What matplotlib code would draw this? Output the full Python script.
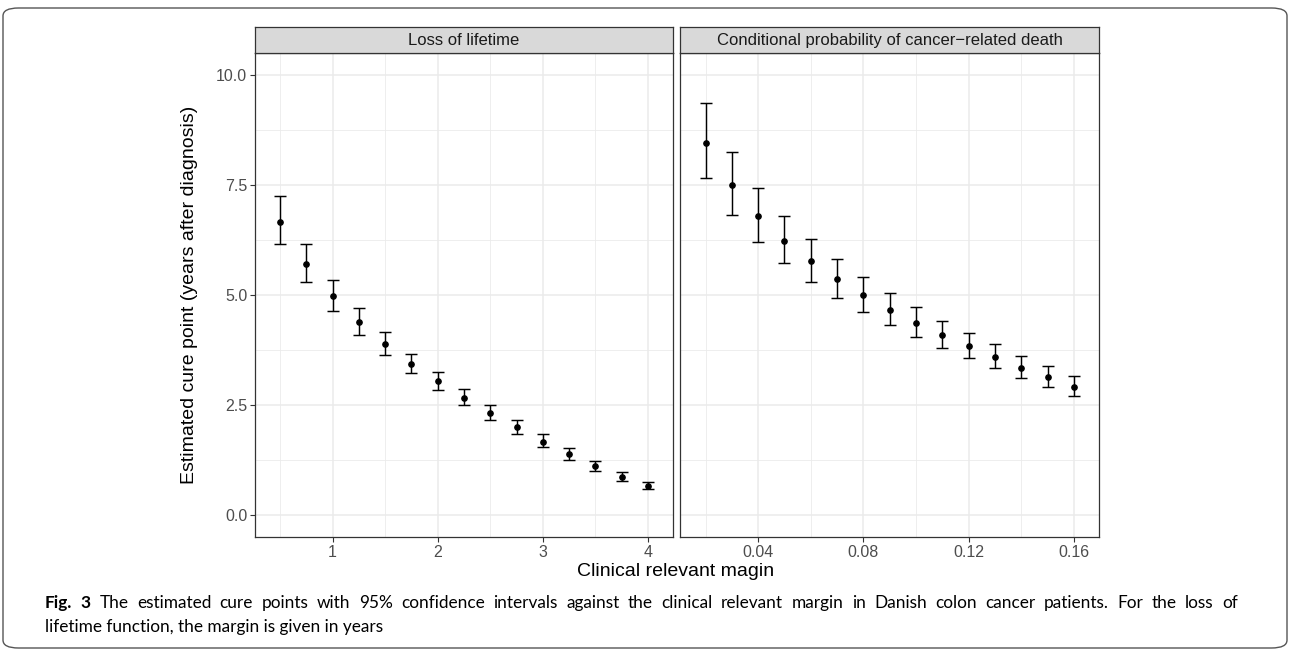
import matplotlib
matplotlib.use("Agg")
import matplotlib.pyplot as plt
from matplotlib.patches import FancyBboxPatch
import numpy as np

# values
lol_margin = [0.5, 0.75, 1, 1.25, 1.5, 1.75, 2, 2.25, 2.5, 2.75, 3, 3.25, 3.5, 3.75, 4]
lol_est = [6.67, 5.70, 4.98, 4.39, 3.89, 3.44, 3.04, 2.67, 2.32, 1.99, 1.67, 1.38, 1.11, 0.86, 0.67]
lol_lo = [6.16, 5.29, 4.64, 4.10, 3.64, 3.22, 2.84, 2.49, 2.16, 1.84, 1.54, 1.26, 1.00, 0.77, 0.59]
lol_hi = [7.26, 6.16, 5.35, 4.70, 4.16, 3.67, 3.25, 2.86, 2.50, 2.15, 1.83, 1.52, 1.23, 0.98, 0.76]

cp_margin = [0.02, 0.03, 0.04, 0.05, 0.06, 0.07, 0.08, 0.09, 0.10, 0.11, 0.12, 0.13, 0.14, 0.15, 0.16]
cp_est = [8.46, 7.50, 6.79, 6.23, 5.77, 5.36, 5.00, 4.67, 4.37, 4.10, 3.83, 3.59, 3.35, 3.14, 2.92]
cp_lo = [7.66, 6.82, 6.21, 5.72, 5.30, 4.94, 4.62, 4.32, 4.05, 3.80, 3.56, 3.33, 3.11, 2.91, 2.71]
cp_hi = [9.36, 8.25, 7.44, 6.80, 6.27, 5.81, 5.41, 5.05, 4.72, 4.42, 4.13, 3.88, 3.62, 3.38, 3.15]

panel_titles = ["Loss of lifetime", "Conditional probability of cancer\u2212related death"]
y_ticks = [0, 2.5, 5, 7.5, 10]
lol_ticks = [1, 2, 3, 4]
cp_ticks = [0.04, 0.08, 0.12, 0.16]

caption_bold = "Fig. 3"
caption_line1 = ("The estimated cure points with 95% confidence intervals against the clinical "
                 "relevant margin in Danish colon cancer patients. For the loss of")
caption_line2 = "lifetime function, the margin is given in years"

plt.rcParams['font.family'] = ['Liberation Sans', 'DejaVu Sans']

W, H = 1290, 657
fig = plt.figure(figsize=(W / 100, H / 100), dpi=100)

# outer rounded frame
frame = FancyBboxPatch((3 / W, 9 / H), 1284 / W, 640 / H,
                       boxstyle="round,pad=0,rounding_size=0.012",
                       transform=fig.transFigure, fill=False,
                       edgecolor="#555555", linewidth=1.0)
fig.patches.append(frame)


def px_axes(x0, x1, y_top, y_bot):
    return fig.add_axes([x0 / W, 1 - y_bot / H, (x1 - x0) / W, (y_bot - y_top) / H])


def style_panel(ax, title, xmajor, xminor, xfmt):
    ax.set_ylim(-0.5, 10.5)
    ax.set_yticks(y_ticks)
    ax.set_yticks([1.25, 3.75, 6.25, 8.75], minor=True)
    ax.set_xticks(xmajor)
    ax.set_xticks(xminor, minor=True)
    ax.set_xticklabels([xfmt(v) for v in xmajor])
    ax.grid(True, which="major", color="#EBEBEB", linewidth=1.1)
    ax.grid(True, which="minor", color="#EBEBEB", linewidth=0.6)
    ax.set_axisbelow(True)
    for s in ax.spines.values():
        s.set_color("#333333")
        s.set_linewidth(0.9)
    ax.tick_params(which="major", length=3.8, width=0.8, color="#333333",
                   labelsize=11.5, labelcolor="#4D4D4D", pad=1.8)
    ax.tick_params(which="minor", length=0)
    # strip on top
    strip = ax.inset_axes([0, 1.0, 1, 26 / 484])
    strip.set_xticks([])
    strip.set_yticks([])
    strip.set_facecolor("#D9D9D9")
    for s in strip.spines.values():
        s.set_color("#333333")
        s.set_linewidth(0.9)
    strip.text(0.5, 0.48, title, ha="center", va="center", fontsize=12,
               color="#1A1A1A", transform=strip.transAxes)


ax1 = px_axes(255, 673, 53, 537)
ax2 = px_axes(680, 1099, 53, 537)

for ax, x, est, lo, hi in [(ax1, lol_margin, lol_est, lol_lo, lol_hi),
                           (ax2, cp_margin, cp_est, cp_lo, cp_hi)]:
    est = np.array(est)
    yerr = [est - np.array(lo), np.array(hi) - est]
    ax.errorbar(x, est, yerr=yerr, fmt="o", color="black", markersize=3.8,
                elinewidth=1.05, capsize=4.3, capthick=1.05, zorder=3)

ax1.set_xlim(0.262, 4.237)
ax2.set_xlim(0.0103, 0.1695)

style_panel(ax1, panel_titles[0], lol_ticks, [0.5, 1.5, 2.5, 3.5], lambda v: f"{v:g}")
style_panel(ax2, panel_titles[1], cp_ticks, [0.02, 0.06, 0.10, 0.14], lambda v: f"{v:.2f}")
ax1.set_yticklabels([f"{v:.1f}" for v in y_ticks])
ax2.tick_params(axis="y", which="both", left=False, labelleft=False)

fig.text(676 / W, 1 - 572 / H, "Clinical relevant magin", ha="center", va="center",
         fontsize=14)
fig.text(189 / W, 1 - 295 / H, "Estimated cure point (years after diagnosis)",
         ha="center", va="center", rotation=90, fontsize=14)

# caption: justified first line, bold label, ragged last line
cap_font = ["Lato", "DejaVu Sans"]
cap_size = 12.4
cap_left, cap_right = 45, 1238
y1, y2 = 1 - 603 / H, 1 - 627 / H

fig.canvas.draw()
renderer = fig.canvas.get_renderer()
words = [(caption_bold.split()[0], "bold"), (caption_bold.split()[1], "bold")]
words += [(w, "normal") for w in caption_line1.split()]
texts = []
widths = []
for w, weight in words:
    t = fig.text(0, y1, w, ha="left", va="center", fontsize=cap_size,
                 fontweight=weight, family=cap_font)
    widths.append(t.get_window_extent(renderer).width)
    texts.append(t)
gap = (cap_right - cap_left - sum(widths)) / (len(words) - 1)
xpos = cap_left
for t, wd in zip(texts, widths):
    t.set_x(xpos / W)
    xpos += wd + gap

fig.text(cap_left / W, y2, caption_line2, ha="left", va="center",
         fontsize=cap_size, family=cap_font)

fig.savefig("out.png", dpi=100)
